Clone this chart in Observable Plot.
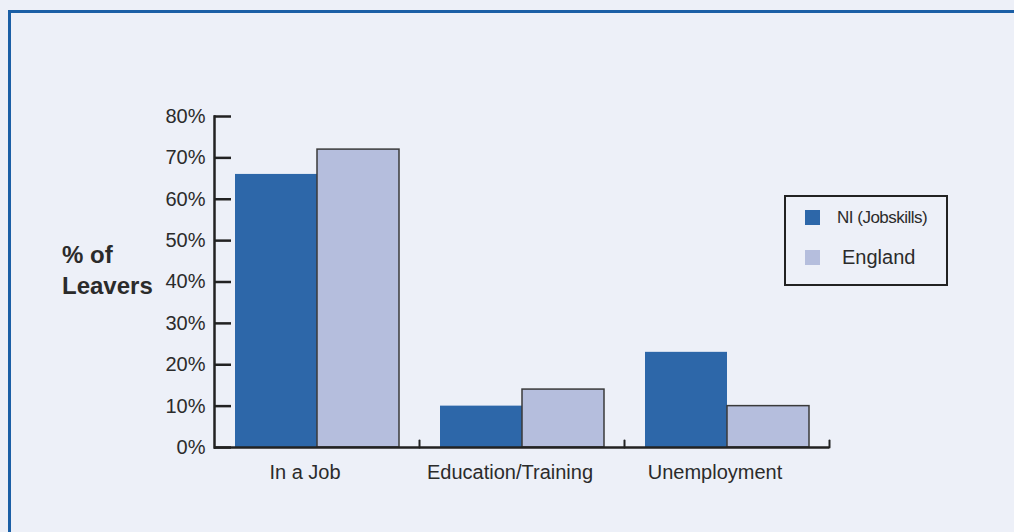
<!DOCTYPE html>
<html>
<head>
<meta charset="utf-8">
<script src="https://cdn.jsdelivr.net/npm/d3@7"></script>
<script src="https://cdn.jsdelivr.net/npm/@observablehq/plot@0.6"></script>
<style>
  html, body { margin: 0; padding: 0; background: #edf0f8; width: 1014px; height: 532px; overflow: hidden; }
  body { position: relative; font-family: "Liberation Sans", Arial, sans-serif; color: #2b2b2b; }
  #frame { position: absolute; left: 8px; top: 10px; width: 1100px; height: 600px; border-top: 3px solid #1b5fa6; border-left: 3px solid #1b5fa6; }
  #chart { position: absolute; left: 0; top: 0; }
  #ytitle { position: absolute; left: 62px; top: 239px; font-weight: bold; font-size: 24px; line-height: 31px; color: #2b2b2b; }
  #legend { position: absolute; left: 784px; top: 195px; width: 160px; height: 87px; border: 2.5px solid #222; }
  .sw { width: 15px; height: 15px; display: inline-block; }
  .lab { position: absolute; white-space: nowrap; color: #2b2b2b; }
</style>
</head>
<body>
<div id="frame"></div>
<div id="chart"></div>
<div id="ytitle">% of<br>Leavers</div>
<div id="legend"></div>
<script>
const categories = ["In a Job", "Education/Training", "Unemployment"];
const series = ["NI (Jobskills)", "England"];
const niValues = [66, 10, 23];
const englandValues = [72, 14, 10];
const yTicks = [0, 10, 20, 30, 40, 50, 60, 70, 80];
const colors = {"NI (Jobskills)": "#2d67a9", "England": "#b5bedd"};

const data = [];
categories.forEach((c, i) => {
  data.push({category: c, series: series[0], value: niValues[i]});
  data.push({category: c, series: series[1], value: englandValues[i]});
});

const ink = "#222";
const tickShape = {draw(context, l) { context.moveTo(0, 0); context.lineTo(0, -l); }};

const chart = Plot.plot({
  width: 1014,
  height: 532,
  marginLeft: 213,
  marginRight: 185,
  marginTop: 116,
  marginBottom: 85,
  style: {background: "transparent", fontFamily: "Liberation Sans, Arial, sans-serif", color: "#2b2b2b"},
  fx: {domain: categories, padding: 0, label: null, axis: null},
  x: {domain: series, paddingInner: 0, paddingOuter: 0.25, axis: null},
  y: {domain: [0, 80], axis: null},
  marks: [
    Plot.barY(data.filter(d => d.series === series[0]), {
      fx: "category", x: "series", y: "value", fill: colors[series[0]]
    }),
    Plot.barY(data.filter(d => d.series === series[1]), {
      fx: "category", x: "series", y: "value", fill: colors[series[1]],
      stroke: "#3a3a3a", strokeWidth: 1.5
    }),
    Plot.ruleY([0], {stroke: ink, strokeWidth: 2.5}),
    Plot.vector([0], {frameAnchor: "bottom-right", length: 7, rotate: 0, anchor: "start",
      shape: tickShape, stroke: ink, strokeWidth: 2}),
    Plot.axisY({ticks: yTicks, tickFormat: d => d + "%", tickSize: -17, tickPadding: 26,
      fontSize: 20, stroke: ink, strokeWidth: 2.5, fill: "#2b2b2b", label: null}),
    Plot.frame({anchor: "left", fx: categories[0], stroke: ink, strokeWidth: 2.5}),
    Plot.axisFx({anchor: "bottom", tickSize: 0, tickPadding: 17, dx: -12, fontSize: 20, fill: "#2b2b2b", label: null})
  ]
});
document.getElementById("chart").appendChild(chart);

// legend
const legend = document.getElementById("legend");
const legendSizes = [17, 20];
const legendTops = [21, 61];
series.forEach((s, i) => {
  const sw = document.createElement("span");
  sw.className = "sw";
  sw.style.background = colors[s];
  sw.style.position = "absolute";
  sw.style.left = "19px";
  sw.style.top = (legendTops[i] - 8) + "px";
  legend.appendChild(sw);
  const lab = document.createElement("span");
  lab.className = "lab";
  lab.textContent = s;
  lab.style.fontSize = legendSizes[i] + "px";
  if (i === 0) lab.style.letterSpacing = "-0.5px";
  lab.style.left = (i === 0 ? 51 : 56) + "px";
  lab.style.top = (legendTops[i] - legendSizes[i] * 0.6) + "px";
  legend.appendChild(lab);
});
</script>
</body>
</html>
